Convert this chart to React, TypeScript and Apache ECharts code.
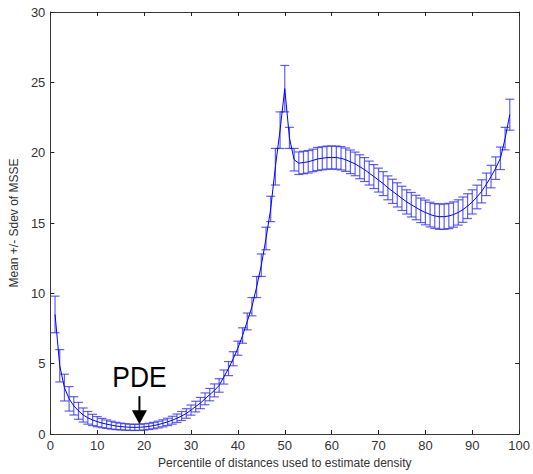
import React, { useEffect, useRef } from "react";
import * as echarts from "echarts";

const percentiles = [
  1, 2, 3, 4, 5, 6, 7, 8, 9, 10, 11, 12, 13, 14, 15, 16, 17, 18, 19, 20,
  21, 22, 23, 24, 25, 26, 27, 28, 29, 30, 31, 32, 33, 34, 35, 36, 37, 38, 39, 40,
  41, 42, 43, 44, 45, 46, 47, 48, 49, 50, 51, 52, 53, 54, 55, 56, 57, 58, 59, 60,
  61, 62, 63, 64, 65, 66, 67, 68, 69, 70, 71, 72, 73, 74, 75, 76, 77, 78, 79, 80,
  81, 82, 83, 84, 85, 86, 87, 88, 89, 90, 91, 92, 93, 94, 95, 96, 97, 98,
];

const meanMSSE = [
  8.5, 4.85, 3.3, 2.5, 2.0, 1.65, 1.35, 1.15, 1.0, 0.88,
  0.78, 0.7, 0.63, 0.57, 0.53, 0.5, 0.48, 0.47, 0.48, 0.5,
  0.54, 0.6, 0.67, 0.76, 0.86, 0.98, 1.12, 1.28, 1.46, 1.7,
  1.95, 2.2, 2.5, 2.8, 3.1, 3.45, 4.05, 4.65, 5.35, 6.1,
  7.0, 8.0, 9.05, 10.45, 12.0, 13.9, 16.0, 19.0, 21.6, 24.55,
  21.05, 19.5, 19.25, 19.3, 19.35, 19.45, 19.55, 19.6, 19.65, 19.65,
  19.65, 19.6, 19.5, 19.35, 19.2, 19.0, 18.8, 18.55, 18.3, 18.05,
  17.8, 17.5, 17.25, 17.0, 16.75, 16.5, 16.3, 16.1, 15.9, 15.75,
  15.6, 15.5, 15.45, 15.45, 15.5, 15.6, 15.75, 15.95, 16.2, 16.5,
  16.85, 17.25, 17.75, 18.3, 18.9, 19.6, 21.0, 22.7,
];

const sdevMSSE = [
  1.3, 1.15, 0.95, 0.87, 0.65, 0.6, 0.5, 0.45, 0.4, 0.36,
  0.33, 0.3, 0.28, 0.26, 0.24, 0.23, 0.22, 0.22, 0.22, 0.22,
  0.22, 0.23, 0.24, 0.25, 0.26, 0.28, 0.3, 0.32, 0.34, 0.36,
  0.38, 0.4, 0.42, 0.44, 0.46, 0.48, 0.5, 0.5, 0.5, 0.5,
  0.55, 0.6, 0.65, 0.75, 0.8, 0.8, 0.9, 1.3, 1.3, 1.65,
  0.75, 0.8, 0.8, 0.8, 0.8, 0.8, 0.82, 0.82, 0.82, 0.82,
  0.82, 0.83, 0.83, 0.84, 0.84, 0.85, 0.85, 0.85, 0.85, 0.85,
  0.85, 0.85, 0.86, 0.86, 0.86, 0.86, 0.87, 0.87, 0.87, 0.88,
  0.88, 0.88, 0.9, 0.9, 0.9, 0.9, 0.9, 0.9, 0.88, 0.86,
  0.84, 0.82, 0.8, 0.8, 0.8, 0.8, 0.8, 1.1,
];

const xTicks = { min: 0, max: 100, interval: 10 };
const yTicks = { min: 0, max: 30, interval: 5 };

const annotation = { label: "PDE", x: 19, y: 0.7 };

const FONT = "Arial, 'Liberation Sans', Helvetica, sans-serif";
const AXIS_COLOR = "#3a3a3a";
const BLUE = "#0000ff";

export default function App() {
  const ref = useRef<HTMLDivElement>(null);

  useEffect(() => {
    document.body.style.margin = "0";
    if (!ref.current) return;
    const chart = echarts.init(ref.current, undefined, { renderer: "svg" });

    const meanData = percentiles.map((p, i) => [p, meanMSSE[i]]);
    const barData = percentiles.map((p, i) => [
      p,
      meanMSSE[i] - sdevMSSE[i],
      meanMSSE[i] + sdevMSSE[i],
    ]);

    const axisLine = { show: true, onZero: false, lineStyle: { color: AXIS_COLOR, width: 1 } };
    const axisTick = { show: true, inside: true, length: 4, lineStyle: { color: "#222", width: 1 } };

    chart.setOption({
      animation: false,
      grid: { left: 47, right: 10, top: 12, bottom: 39 },
      xAxis: [
        {
          type: "value",
          position: "bottom",
          ...xTicks,
          axisLine,
          axisTick,
          splitLine: { show: false },
          axisLabel: { color: "#333", fontSize: 13, fontFamily: FONT, margin: 5 },
          name: "Percentile of distances used to estimate density",
          nameLocation: "middle",
          nameGap: 23,
          nameTextStyle: { color: "#333", fontSize: 12, fontFamily: FONT },
        },
        {
          type: "value",
          position: "top",
          ...xTicks,
          axisLine,
          axisTick,
          splitLine: { show: false },
          axisLabel: { show: false },
        },
      ],
      yAxis: [
        {
          type: "value",
          position: "left",
          ...yTicks,
          axisLine,
          axisTick,
          splitLine: { show: false },
          axisLabel: { color: "#333", fontSize: 13, fontFamily: FONT, margin: 5 },
          name: "Mean +/- Sdev of MSSE",
          nameLocation: "middle",
          nameGap: 27,
          nameRotate: 90,
          nameTextStyle: { color: "#333", fontSize: 12, fontFamily: FONT },
        },
        {
          type: "value",
          position: "right",
          ...yTicks,
          axisLine,
          axisTick,
          splitLine: { show: false },
          axisLabel: { show: false },
        },
      ],
      series: [
        {
          type: "custom",
          xAxisIndex: 0,
          yAxisIndex: 0,
          data: barData,
          encode: { x: 0, y: [1, 2] },
          clip: false,
          z: 2,
          renderItem: (params: any, api: any) => {
            const x = api.value(0);
            const lo = api.coord([x, api.value(1)]);
            const hi = api.coord([x, api.value(2)]);
            const w = 4.5;
            const style = { stroke: "rgba(40,40,255,0.75)", lineWidth: 1.2 };
            return {
              type: "group",
              children: [
                { type: "line", shape: { x1: hi[0], y1: hi[1], x2: lo[0], y2: lo[1] }, style },
                { type: "line", shape: { x1: hi[0] - w, y1: hi[1], x2: hi[0] + w, y2: hi[1] }, style },
                { type: "line", shape: { x1: lo[0] - w, y1: lo[1], x2: lo[0] + w, y2: lo[1] }, style },
              ],
            };
          },
        },
        {
          type: "line",
          xAxisIndex: 0,
          yAxisIndex: 0,
          data: meanData,
          symbol: "none",
          lineStyle: { color: BLUE, width: 1 },
          z: 3,
        },
      ],
    });

    const tip = chart.convertToPixel({ xAxisIndex: 0, yAxisIndex: 0 }, [annotation.x, annotation.y]) as number[];
    const tx = tip[0];
    const ty = tip[1];
    chart.setOption({
      graphic: [
        {
          type: "text",
          x: tx,
          y: ty - 63,
          scaleX: 0.88,
          style: {
            text: annotation.label,
            fontSize: 30,
            fontFamily: FONT,
            fill: "#000",
            align: "center",
            verticalAlign: "top",
          },
          z: 10,
        },
        {
          type: "line",
          shape: { x1: tx, y1: ty - 28, x2: tx, y2: ty - 13 },
          style: { stroke: "#000", lineWidth: 2 },
          z: 10,
        },
        {
          type: "polygon",
          shape: { points: [[tx - 7.5, ty - 14], [tx + 7.5, ty - 14], [tx, ty]] },
          style: { fill: "#000" },
          z: 10,
        },
      ],
    });

    return () => chart.dispose();
  }, []);

  return <div ref={ref} style={{ width: 533, height: 474 }} />;
}
